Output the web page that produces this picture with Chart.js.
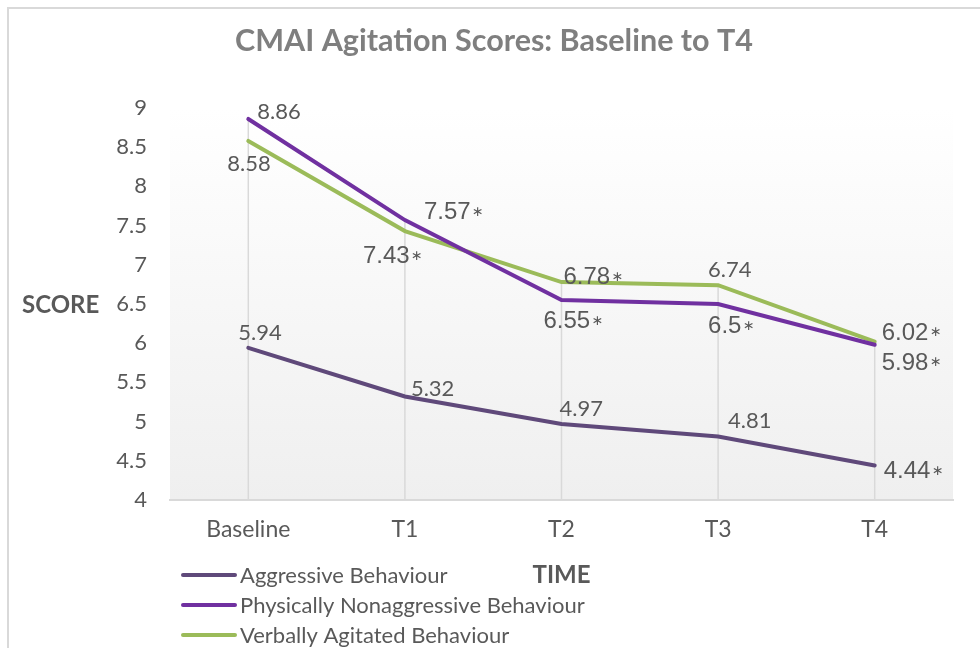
<!DOCTYPE html>
<html>
<head>
<meta charset="utf-8">
<script src="https://cdn.jsdelivr.net/npm/chart.js@4.4.1/dist/chart.umd.min.js"></script>
<style>
  html, body { margin: 0; padding: 0; background: #fff; }
  canvas { display: block; }
</style>
</head>
<body>
<canvas id="cmaiChart" width="980" height="648"></canvas>
<script>
// Données du graphique
const categories = ['Baseline', 'T1', 'T2', 'T3', 'T4'];
const seriesNames = ['Aggressive Behaviour', 'Physically Nonaggressive Behaviour', 'Verbally Agitated Behaviour'];
const aggressive = [5.94, 5.32, 4.97, 4.81, 4.44];
const physical = [8.86, 7.57, 6.55, 6.5, 5.98];
const verbal = [8.58, 7.43, 6.78, 6.74, 6.02];
// valeurs significatives (astérisque)
const aggressiveSig = [false, false, false, false, true];
const physicalSig = [false, true, true, true, true];
const verbalSig = [false, true, true, false, true];

const chartTitle = 'CMAI Agitation Scores: Baseline to T4';
const seriesColors = ['#5f497a', '#7030a0', '#9bbb59'];
const textGrey = '#595959';

// décalage des étiquettes par rapport au point (début du texte, ligne de base)
const labelOffsets = [
    [[-10, -8], [6, -1], [-2, -8], [10, -8.5], [9, 12.5]],
    [[9, 0], [19, -1], [-18, 28], [-10, 29], [7, 25]],
    [[-21, 30], [-42, 32], [2, 2], [-10, -8], [7, -2]]
];
const sigFlags = [aggressiveSig, physicalSig, verbalSig];

// Cadre + fond dégradé de la zone de tracé
const framePlugin = {
    id: 'frame',
    beforeDraw(chart) {
        const { ctx, chartArea: a } = chart;
        ctx.save();
        ctx.fillStyle = '#fff';
        ctx.fillRect(0, 0, chart.width, chart.height);
        ctx.strokeStyle = '#d9d9d9';
        ctx.lineWidth = 2;
        ctx.strokeRect(8, 8, chart.width + 20, chart.height + 20);
        const g = ctx.createLinearGradient(0, a.top, 0, a.bottom);
        g.addColorStop(0, '#ffffff');
        g.addColorStop(1, '#efefef');
        ctx.fillStyle = g;
        ctx.fillRect(a.left, a.top, a.right - a.left, a.bottom - a.top);
        ctx.restore();
    },
    // lignes de projection (du point le plus haut jusqu'à l'axe)
    beforeDatasetsDraw(chart) {
        const { ctx, chartArea: a } = chart;
        ctx.save();
        ctx.strokeStyle = '#d9d9d9';
        ctx.lineWidth = 1.5;
        categories.forEach((c, i) => {
            let top = a.bottom, x = 0;
            chart.data.datasets.forEach((ds, d) => {
                const pt = chart.getDatasetMeta(d).data[i];
                if (pt.y < top) { top = pt.y; x = pt.x; }
            });
            ctx.beginPath();
            ctx.moveTo(x, top);
            ctx.lineTo(x, a.bottom);
            ctx.stroke();
        });
        ctx.restore();
    }
};

// Titre, étiquettes, titres d'axes et légende
const textPlugin = {
    id: 'texts',
    afterDraw(chart) {
        const { ctx, chartArea: a } = chart;
        ctx.save();
        ctx.textBaseline = 'alphabetic';

        ctx.fillStyle = '#7f7f7f';
        ctx.textAlign = 'center';
        ctx.font = 'bold 30.5px Lato, sans-serif';
        ctx.fillText(chartTitle, 494, 51);

        ctx.fillStyle = textGrey;
        ctx.textAlign = 'left';
        chart.data.datasets.forEach((ds, d) => {
            const meta = chart.getDatasetMeta(d);
            meta.data.forEach((pt, i) => {
                const [dx, dy] = labelOffsets[d][i];
                const txt = String(ds.data[i]);
                const x = pt.x + dx, y = pt.y + dy;
                if (sigFlags[d][i]) {
                    ctx.font = '24px "Liberation Sans", Arial, sans-serif';
                    ctx.fillText(txt, x, y);
                    const w = ctx.measureText(txt).width;
                    ctx.font = '14px "DejaVu Sans", sans-serif';
                    ctx.fillText('\u2217', x + w + 1.5, y - 3.5);
                } else {
                    ctx.font = '22px Lato, sans-serif';
                    ctx.fillText(txt, x, y);
                }
            });
        });

        // titres des axes
        ctx.font = 'bold 24px Lato, sans-serif';
        ctx.fillText('SCORE', 22, 313);
        ctx.textAlign = 'center';
        ctx.fillText('TIME', (a.left + a.right) / 2, 583);

        // légende
        ctx.textAlign = 'left';
        ctx.font = '22px Lato, sans-serif';
        seriesNames.forEach((name, k) => {
            const cy = 575 + k * 30;
            ctx.strokeStyle = seriesColors[k];
            ctx.lineWidth = 4;
            ctx.lineCap = 'round';
            ctx.beginPath();
            ctx.moveTo(183, cy);
            ctx.lineTo(235, cy);
            ctx.stroke();
            ctx.fillText(name, 240, 583 + k * 30);
        });
        ctx.restore();
    }
};

const ctx = document.getElementById('cmaiChart').getContext('2d');

const cmaiChart = new Chart(ctx, {
    type: 'line',
    data: {
        labels: categories,
        datasets: [
            { label: seriesNames[0], data: aggressive, borderColor: seriesColors[0] },
            { label: seriesNames[1], data: physical, borderColor: seriesColors[1] },
            { label: seriesNames[2], data: verbal, borderColor: seriesColors[2] }
        ]
    },
    options: {
        responsive: false,
        animation: false,
        layout: { padding: { left: 0, right: 27, top: 108, bottom: 0 } },
        elements: {
            line: { borderWidth: 4, tension: 0, borderCapStyle: 'round', fill: false },
            point: { radius: 0, hoverRadius: 0 }
        },
        plugins: {
            legend: { display: false },
            tooltip: { enabled: false },
            title: { display: false }
        },
        scales: {
            x: {
                offset: true,
                grid: { display: false, drawTicks: false },
                border: { color: '#d9d9d9', width: 2 },
                ticks: { color: textGrey, font: { family: 'Lato', size: 23 }, padding: 16 },
                afterFit: s => { s.height = 148; }
            },
            y: {
                min: 4,
                max: 9,
                grid: { display: false, drawTicks: false },
                border: { display: false },
                ticks: {
                    stepSize: 0.5,
                    color: textGrey,
                    font: { family: 'Lato', size: 22 },
                    padding: 23,
                    callback: v => String(Number(v.toFixed(1)))
                },
                afterFit: s => { s.width = 170; }
            }
        }
    },
    plugins: [framePlugin, textPlugin]
});
</script>
</body>
</html>
